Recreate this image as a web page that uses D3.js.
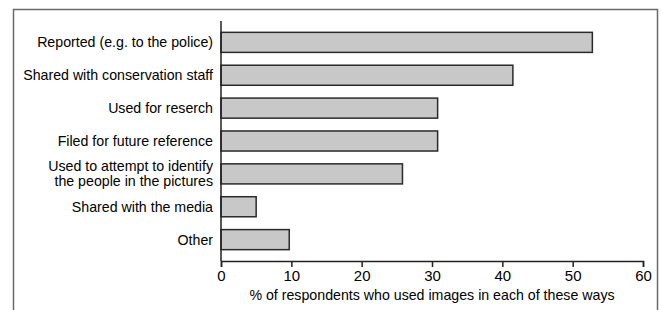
<!DOCTYPE html>
<html>
<head>
<meta charset="utf-8">
<script src="https://cdn.jsdelivr.net/npm/d3@7"></script>
<style>
  body { margin: 0; background: #fff; }
  text { font-family: "Liberation Sans", Arial, sans-serif; fill: #000; }
</style>
</head>
<body>
<div id="chart"></div>
<script>
var categories = [
  "Reported (e.g. to the police)",
  "Shared with conservation staff",
  "Used for reserch",
  "Filed for future reference",
  "Used to attempt to identify|the people in the pictures",
  "Shared with the media",
  "Other"
];
var values = [52.8, 41.5, 30.8, 30.8, 25.8, 5.0, 9.7];
var xTicks = [0, 10, 20, 30, 40, 50, 60];
var xTitle = "% of respondents who used images in each of these ways";

function init(){
  var W = 661, H = 310;
  var svg = d3.select("#chart").append("svg")
    .attr("width", W).attr("height", H);

  // outer frame (open at the bottom)
  svg.append("path")
    .attr("d", "M13.5,310 V9.5 H657.5 V310")
    .attr("fill", "none")
    .attr("stroke", "#6a6a6a")
    .attr("stroke-width", 1.5);

  var x = d3.scaleLinear().domain([0, 60]).range([221, 643]);
  var y = d3.scaleBand().domain(categories).range([21, 261])
    .paddingInner(0.39).paddingOuter(0.345);

  // bars
  svg.selectAll("rect.bar")
    .data(values)
    .enter().append("rect")
      .attr("class", "bar")
      .attr("x", x(0))
      .attr("y", function(d, i){ return y(categories[i]); })
      .attr("width", function(d){ return x(d) - x(0); })
      .attr("height", y.bandwidth())
      .attr("fill", "#c8c8c8")
      .attr("stroke", "#2a2a2a")
      .attr("stroke-width", 1.5);

  // x axis
  var xAxis = svg.append("g")
    .attr("transform", "translate(0,261)")
    .call(d3.axisBottom(x).tickValues(xTicks).tickSize(6).tickPadding(3));
  xAxis.select(".domain").attr("stroke", "#222").attr("stroke-width", 1.5);
  xAxis.selectAll(".tick line").attr("stroke", "#222").attr("stroke-width", 1.5);
  xAxis.selectAll(".tick text")
    .style("font-family", '"Liberation Sans", Arial, sans-serif')
    .style("font-size", "15px").attr("fill", "#000");

  // y axis line (no ticks)
  svg.append("line")
    .attr("x1", x(0)).attr("x2", x(0))
    .attr("y1", 21).attr("y2", 261)
    .attr("stroke", "#222").attr("stroke-width", 1.5);

  // category labels
  svg.selectAll("text.cat")
    .data(categories)
    .enter().append("text")
      .attr("class", "cat")
      .attr("text-anchor", "end")
      .style("font-size", "14.2px")
      .each(function(d){
        var lines = d.split("|");
        var cy = y(d) + y.bandwidth() / 2;
        var t = d3.select(this);
        lines.forEach(function(l, k){
          t.append("tspan")
            .attr("x", 213)
            .attr("y", cy + (k - (lines.length - 1) / 2) * 15)
            .attr("dy", "0.35em")
            .text(l);
        });
      });

  // x axis title
  svg.append("text")
    .attr("x", x(30))
    .attr("y", 295)
    .attr("dy", "0.35em")
    .attr("text-anchor", "middle")
    .style("font-size", "14.2px")
    .text(xTitle);
}
window.onload = init;
</script>
</body>
</html>
